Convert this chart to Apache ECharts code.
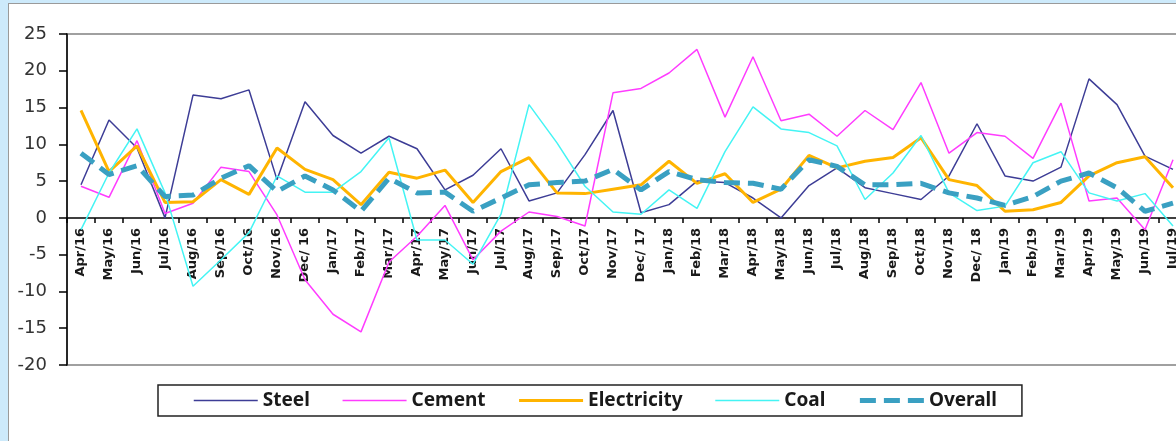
<!DOCTYPE html>
<html>
<head>
<meta charset="utf-8">
<script src="https://cdn.jsdelivr.net/npm/echarts@6/dist/echarts.min.js"></script>
<style>
html,body{margin:0;padding:0;background:#cdeafb;width:1176px;height:441px;overflow:hidden;}
#panel{position:absolute;left:8px;top:3px;width:1300px;height:600px;background:#fff;border:1px solid #9a9a9a;}
#chart{position:absolute;left:0;top:0;width:1190px;height:441px;}
</style>
</head>
<body>
<div id="panel"></div>
<div id="chart"></div>
<script>
var categories = ["Apr/16","May/16","Jun/16","Jul/16","Aug/16","Sep/16","Oct/16","Nov/16","Dec/ 16","Jan/17","Feb/17","Mar/17",
  "Apr/17","May/17","Jun/17","Jul/17","Aug/17","Sep/17","Oct/17","Nov/17","Dec/ 17","Jan/18","Feb/18","Mar/18",
  "Apr/18","May/18","Jun/18","Jul/18","Aug/18","Sep/18","Oct/18","Nov/18","Dec/ 18","Jan/19","Feb/19","Mar/19",
  "Apr/19","May/19","Jun/19","Jul/19"];
var steel = [4.5,13.3,9.5,0,16.7,16.2,17.4,5.2,15.8,11.2,8.8,11.1,9.4,3.8,5.8,9.4,2.3,3.4,8.6,14.6,0.7,1.8,5.0,4.8,2.7,0,4.4,6.8,4.1,3.3,2.5,5.7,12.8,5.7,5.0,6.9,18.9,15.4,8.4,6.6];
var cement = [4.3,2.8,10.5,0.6,2.0,6.9,6.3,0.4,-8.4,-13.1,-15.5,-6.0,-2.5,1.7,-5.7,-1.8,0.8,0.2,-1.1,17.0,17.6,19.7,22.9,13.7,21.9,13.2,14.1,11.1,14.6,12.0,18.4,8.8,11.6,11.1,8.1,15.6,2.3,2.7,-1.6,7.9];
var electricity = [14.6,6.3,9.8,2.1,2.2,5.2,3.2,9.5,6.6,5.2,1.8,6.2,5.4,6.5,2.1,6.3,8.2,3.4,3.3,3.9,4.5,7.7,4.7,6.0,2.1,3.9,8.5,6.8,7.7,8.2,10.9,5.2,4.4,0.9,1.1,2.1,5.7,7.5,8.3,4.1];
var coal = [-1.6,6.1,12.1,3.4,-9.3,-5.7,-2.0,5.7,3.5,3.5,6.3,10.9,-3.0,-3.0,-6.3,0.5,15.4,10.2,4.3,0.8,0.5,3.8,1.3,9.0,15.1,12.1,11.6,9.8,2.5,6.1,11.2,3.4,1.0,1.6,7.5,9.0,3.4,2.3,3.3,-1.1];
var overall = [8.8,5.9,7.1,2.9,3.1,5.4,7.1,3.6,5.7,3.8,0.9,5.4,3.4,3.5,0.9,2.7,4.5,4.8,5.0,6.6,3.8,6.3,5.2,4.8,4.7,3.9,7.9,7.0,4.5,4.5,4.7,3.4,2.7,1.7,2.9,5.0,6.1,4.1,0.9,2.0];
var seriesNames = ["Steel","Cement","Electricity","Coal","Overall"];
var yTicks = {min:-20, max:25, interval:5};

var styles = {
  Steel: {color: '#3d3d96', width: 1.5, type: 'solid'},
  Cement: {color: '#ff3cff', width: 1.5, type: 'solid'},
  Electricity: {color: '#ffb400', width: 3, type: 'solid'},
  Coal: {color: '#44f4f4', width: 1.5, type: 'solid'},
  Overall: {color: '#3aa0c2', width: 5, type: [16, 8]}
};
var seriesData = {Steel: steel, Cement: cement, Electricity: electricity, Coal: coal, Overall: overall};

var gridTop = 34, gridHeight = 331;
var zeroOffset = gridHeight * (0 - yTicks.min) / (yTicks.max - yTicks.min);

var chart = echarts.init(document.getElementById('chart'), null, {renderer:'canvas'});
chart.setOption({
  animation: false,
  grid: {left: 67, top: gridTop, right: 3, height: gridHeight, show: true, borderColor: '#a0a0a0', borderWidth: 2, backgroundColor: 'transparent', containLabel: false},
  legend: {
    data: seriesNames.map(function(n){
      var s = styles[n];
      return {name: n, itemStyle: {opacity: 0}, lineStyle: {width: s.width, type: s.type, color: s.color}};
    }),
    left: 158, top: 385,
    orient: 'horizontal',
    borderColor: '#222', borderWidth: 1.5,
    padding: [6, 25, 6, 35],
    itemGap: 32, itemWidth: 64, itemHeight: 14,
    itemStyle: {opacity: 0},
    textStyle: {fontFamily: 'Noto Sans', fontWeight: 'bold', fontSize: 19, color: '#1a1a1a'},
    selectedMode: false
  },
  xAxis: {
    type: 'category', data: categories, boundaryGap: true,
    position: 'bottom', offset: -zeroOffset,
    axisLine: {onZero: false, lineStyle: {color: '#000', width: 1.5}},
    axisTick: {show: true, length: 5, lineStyle: {color: '#000', width: 1.5}},
    axisLabel: {rotate: 90, interval: 0, margin: 10, fontFamily: 'DejaVu Sans', fontWeight: 'bold', fontSize: 13, color: '#1a1a1a'},
    splitLine: {show: false}
  },
  yAxis: {
    type: 'value', min: yTicks.min, max: yTicks.max, interval: yTicks.interval,
    axisLine: {show: true, lineStyle: {color: '#000', width: 1.5}},
    axisTick: {show: true, length: 8, lineStyle: {color: '#000', width: 1.5}},
    axisLabel: {margin: 20, fontFamily: 'DejaVu Sans', fontSize: 18, color: '#333'},
    splitLine: {show: false}
  },
  series: seriesNames.map(function(n){
    var s = styles[n];
    return {
      name: n, type: 'line', data: seriesData[n], symbol: 'none', showSymbol: false,
      lineStyle: {color: s.color, width: s.width, type: s.type, cap: 'butt'},
      itemStyle: {color: s.color},
      emphasis: {disabled: true}, animation: false
    };
  })
});
</script>
</body>
</html>
